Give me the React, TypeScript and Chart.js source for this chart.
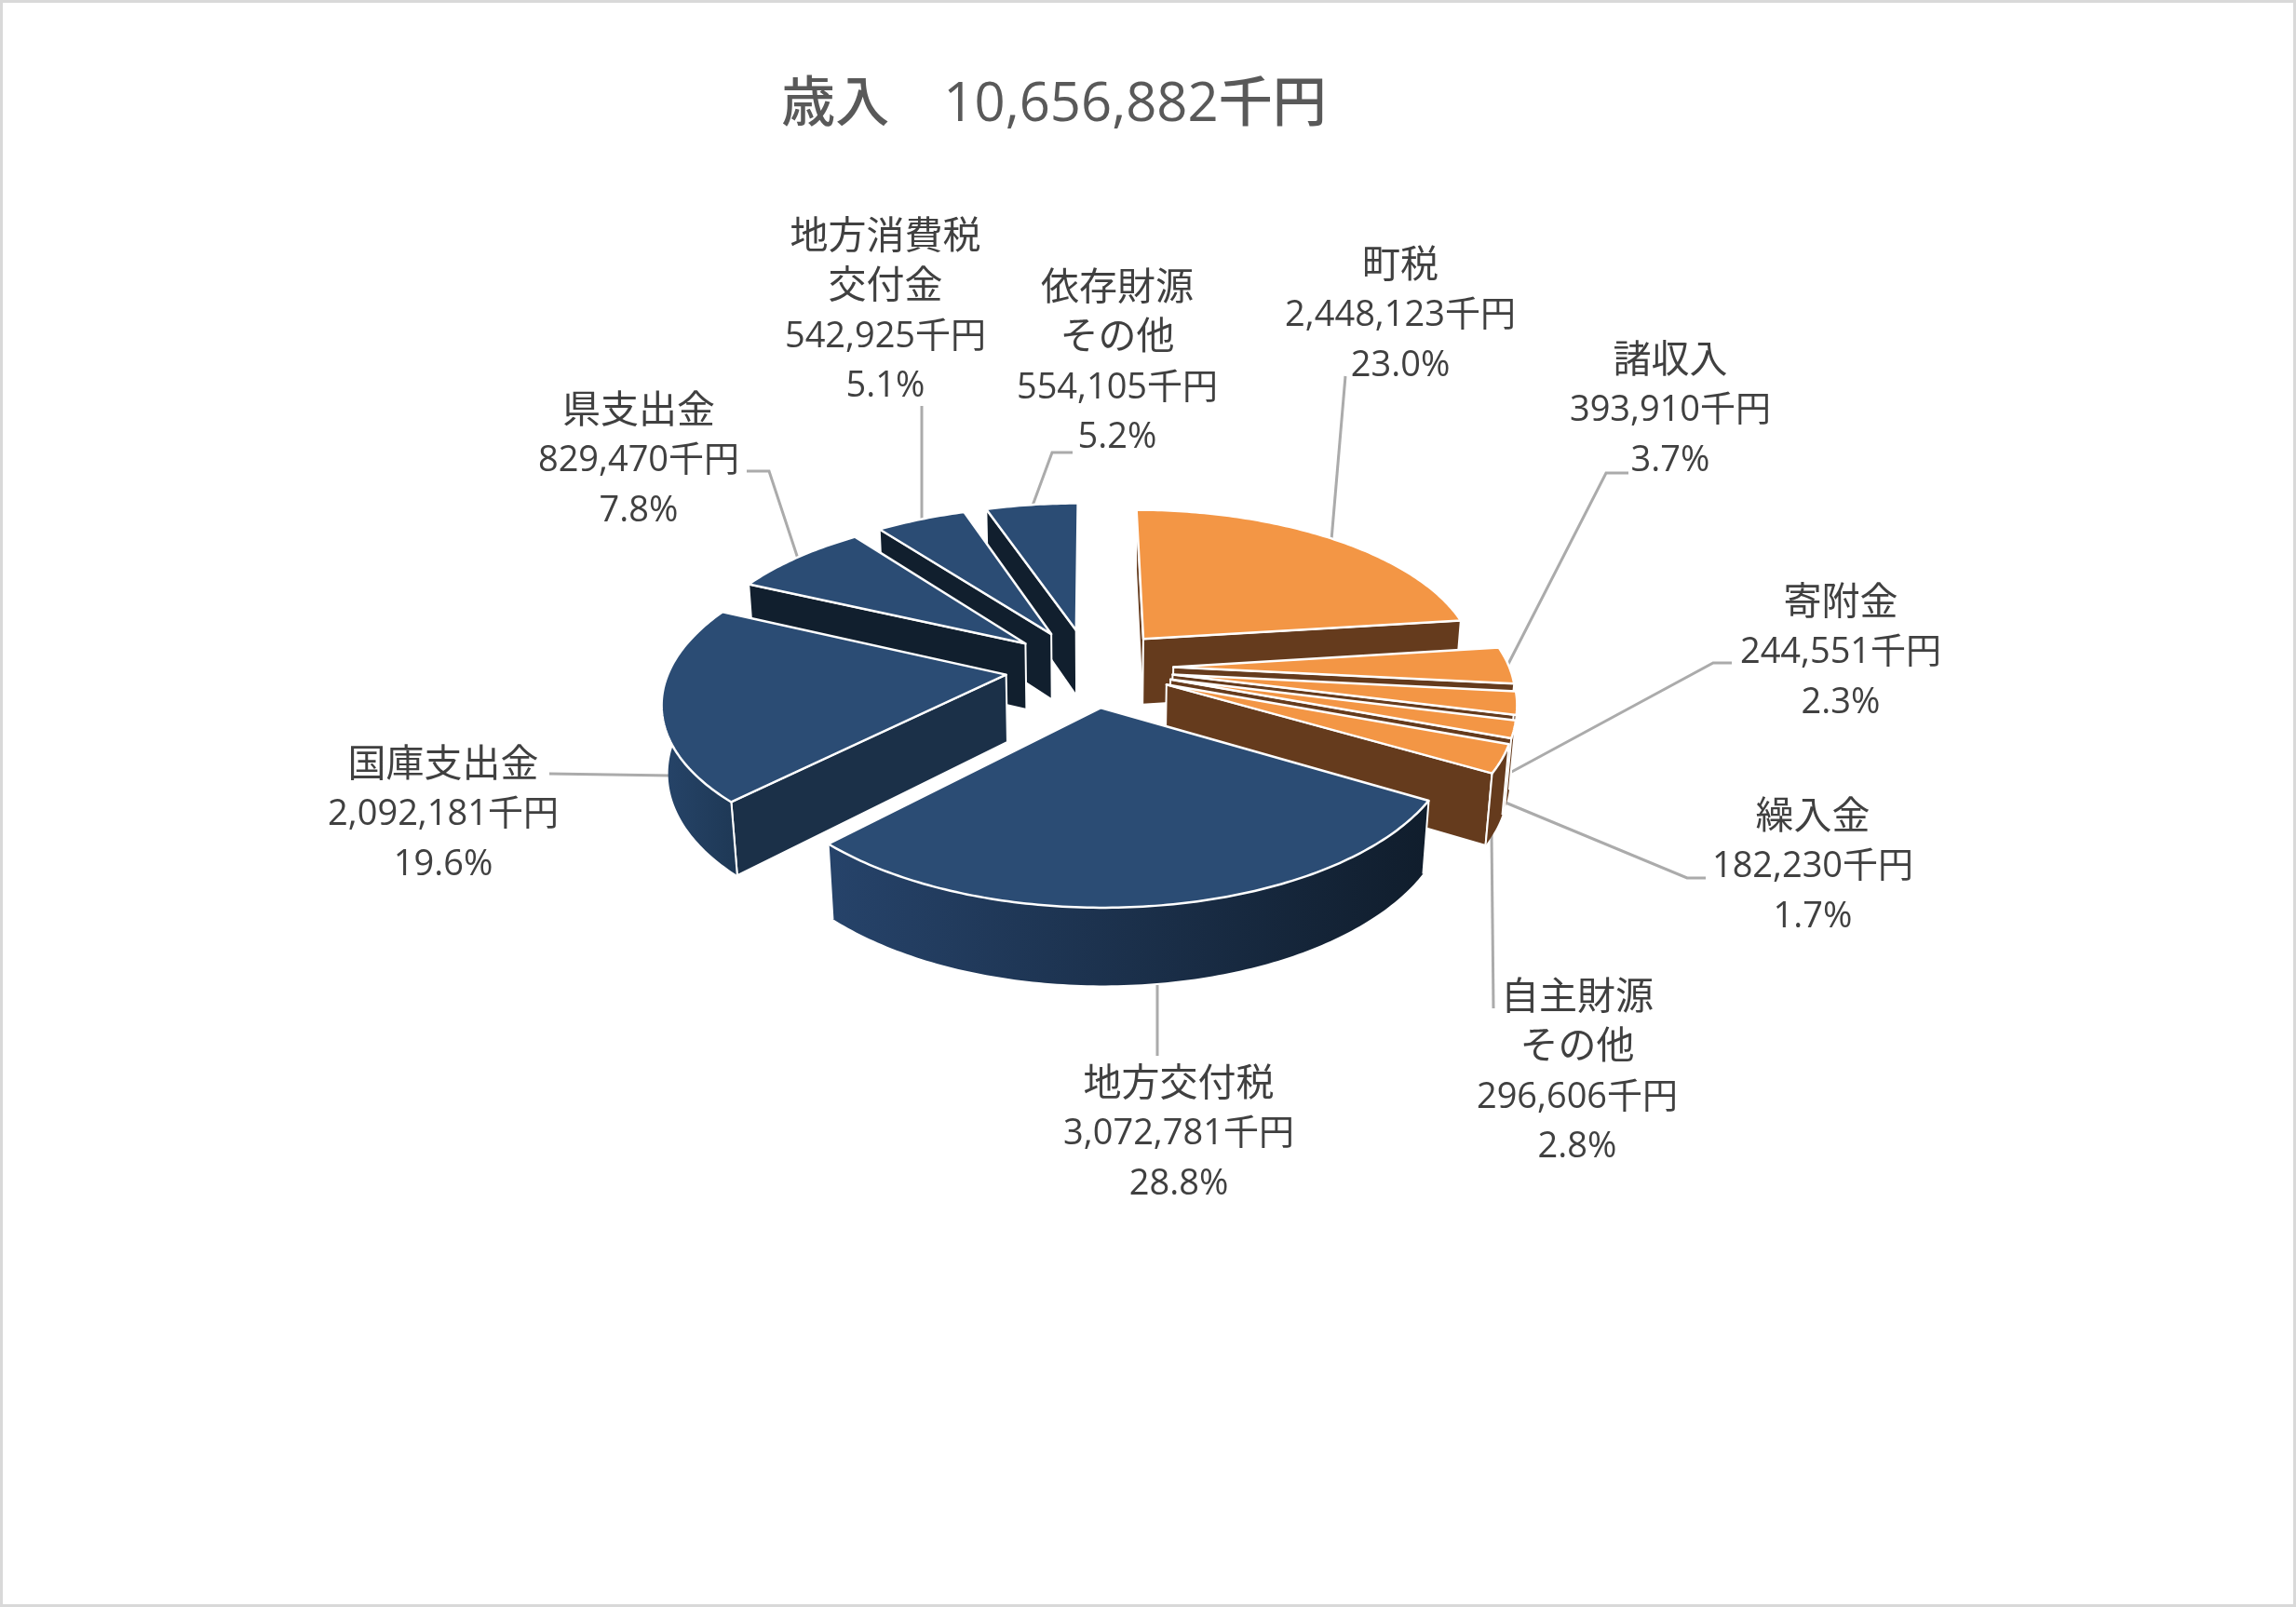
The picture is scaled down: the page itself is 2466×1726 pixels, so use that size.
// File: App.tsx
import React, { useEffect, useRef } from "react";
import { Chart, registerables } from "chart.js";

Chart.register(...registerables);

const titleText = "歳入　10,656,882千円";

const categories = [
  "町税",
  "諸収入",
  "寄附金",
  "繰入金",
  "自主財源\nその他",
  "地方交付税",
  "国庫支出金",
  "県支出金",
  "地方消費税\n交付金",
  "依存財源\nその他",
];
const amounts = [2448123, 393910, 244551, 182230, 296606, 3072781, 2092181, 829470, 542925, 554105];

const ORANGE = "#F39645";
const BROWN = "#653B1D";
const BLUE = "#2B4C74";
const topColors = [ORANGE, ORANGE, ORANGE, ORANGE, ORANGE, BLUE, BLUE, BLUE, BLUE, BLUE];
const cutColors = [BROWN, BROWN, BROWN, BROWN, BROWN, "#111F2E", "#1B3048", "#111F2E", "#111F2E", "#111F2E"];
const wallFrom = [BROWN, BROWN, BROWN, BROWN, BROWN, "#26436A", "#264469", "#111F2E", "#111F2E", "#111F2E"];
const wallTo = [BROWN, BROWN, BROWN, BROWN, BROWN, "#101D2C", "#1E3855", "#111F2E", "#111F2E", "#111F2E"];

// where each data label sits: centre x, centre y of its first line
const labelSpots = [
  [1504, 286],
  [1794, 388],
  [1977, 648],
  [1947, 878],
  [1694, 1072],
  [1266, 1165],
  [476, 822],
  [686, 442],
  [951, 255],
  [1200, 310],
];
const leaderLines = [
  [[1430, 580], [1445, 404]],
  [[1619, 715], [1725, 508], [1749, 508]],
  [[1618, 832], [1840, 712], [1860, 712]],
  [[1617, 862], [1812, 943], [1832, 943]],
  [[1602, 895], [1604, 1083]],
  [[1243, 1058], [1243, 1134]],
  [[720, 833], [590, 831]],
  [[857, 600], [826, 506], [802, 506]],
  [[990, 559], [990, 436]],
  [[1109, 543], [1130, 486], [1152, 486]],
];

// 3d view of the pie, in canvas pixels for a unit radius
const view = { cx: 1170, cy: 717, a: 361, b: 168, h: 73, k: 0.15, m: 0.015 };
const EXPLODE = 0.25;
const TEXT_FONT = '"Open Sans", "Noto Sans CJK JP", sans-serif';

const project = (u: number, v: number, z: number) => {
  const w = 1 - view.k * v + view.m * z;
  return [view.cx + (view.a * u) / w, view.cy + (view.b * v + view.h * z) / w];
};

const tracePoly = (ctx: CanvasRenderingContext2D, pts: number[][]) => {
  ctx.beginPath();
  pts.forEach((p, i) => (i === 0 ? ctx.moveTo(p[0], p[1]) : ctx.lineTo(p[0], p[1])));
  ctx.closePath();
};

const paintFace = (ctx: CanvasRenderingContext2D, pts: number[][], fill: string | CanvasGradient, edge: number) => {
  tracePoly(ctx, pts);
  ctx.fillStyle = fill;
  ctx.fill();
  if (edge > 0) {
    ctx.strokeStyle = "#FFFFFF";
    ctx.lineWidth = edge;
    ctx.lineJoin = "round";
    ctx.stroke();
  }
};

// draws the slices chart.js laid out, as an exploded 3d pie
const pie3dPlugin = {
  id: "pie3d",
  beforeDraw(chart: any) {
    const { ctx, width, height } = chart;
    ctx.save();
    ctx.fillStyle = "#FFFFFF";
    ctx.fillRect(0, 0, width, height);
    ctx.strokeStyle = "#D9D9D9";
    ctx.lineWidth = 3;
    ctx.strokeRect(1.5, 1.5, width - 3, height - 3);

    ctx.strokeStyle = "#ABABAB";
    ctx.lineWidth = 3;
    leaderLines.forEach((line) => {
      ctx.beginPath();
      line.forEach((p, i) => (i === 0 ? ctx.moveTo(p[0], p[1]) : ctx.lineTo(p[0], p[1])));
      ctx.stroke();
    });
    ctx.restore();
  },
  beforeDatasetDraw(chart: any) {
    const ctx: CanvasRenderingContext2D = chart.ctx;
    const arcs = chart.getDatasetMeta(0).data.map((el: any, index: number) => {
      const props = el.getProps(["startAngle", "endAngle"], true);
      const mid = (props.startAngle + props.endAngle) / 2;
      return { index, start: props.startAngle, end: props.endAngle, mid };
    });
    arcs.sort((p: any, q: any) => Math.sin(p.mid) - Math.sin(q.mid));

    ctx.save();
    arcs.forEach(({ index, start, end, mid }: any) => {
      const ou = Math.cos(mid) * EXPLODE;
      const ov = Math.sin(mid) * EXPLODE;
      const rim = (ang: number, z: number) => project(ou + Math.cos(ang), ov + Math.sin(ang), z);
      const seen = (nu: number, nv: number) => -ou * nu + (1 / view.k - ov) * nv > 0;

      // cut faces
      if (seen(Math.sin(start), -Math.cos(start))) {
        paintFace(ctx, [project(ou, ov, 0), rim(start, 0), rim(start, 1), project(ou, ov, 1)], cutColors[index], 2);
      }
      if (seen(-Math.sin(end), Math.cos(end))) {
        paintFace(ctx, [project(ou, ov, 0), rim(end, 0), rim(end, 1), project(ou, ov, 1)], cutColors[index], 2);
      }

      // outer wall, a little past the left side so the silhouette closes
      const from = Math.max(start, 0);
      const to = Math.min(end, Math.PI + 0.3);
      if (to > from) {
        const steps = Math.max(2, Math.ceil((to - from) / 0.015));
        const upper: number[][] = [];
        const lower: number[][] = [];
        for (let i = 0; i <= steps; i++) {
          const ang = from + ((to - from) * i) / steps;
          upper.push(rim(ang, 0));
          lower.push(rim(ang, 1));
        }
        const xs = upper.concat(lower).map((p) => p[0]);
        const grad = ctx.createLinearGradient(Math.min(...xs), 0, Math.max(...xs), 0);
        grad.addColorStop(0, wallFrom[index]);
        grad.addColorStop(1, wallTo[index]);
        paintFace(ctx, upper.concat(lower.reverse()), grad, 0);

        // white corner where the wall meets a cut face
        ctx.strokeStyle = "#FFFFFF";
        ctx.lineWidth = 2;
        ctx.beginPath();
        if (from === start) {
          ctx.moveTo(rim(start, 0)[0], rim(start, 0)[1]);
          ctx.lineTo(rim(start, 1)[0], rim(start, 1)[1]);
        }
        if (to === end) {
          ctx.moveTo(rim(end, 0)[0], rim(end, 0)[1]);
          ctx.lineTo(rim(end, 1)[0], rim(end, 1)[1]);
        }
        ctx.stroke();
      }

      // top face
      const steps = Math.max(2, Math.ceil((end - start) / 0.015));
      const top = [project(ou, ov, 0)];
      for (let i = 0; i <= steps; i++) top.push(rim(start + ((end - start) * i) / steps, 0));
      paintFace(ctx, top, topColors[index], 2.5);
    });
    ctx.restore();
    return false; // the flat pie itself is not drawn
  },
  afterDraw(chart: any) {
    const { ctx } = chart;
    const total = amounts.reduce((sum, n) => sum + n, 0);
    ctx.save();
    ctx.textAlign = "center";
    ctx.textBaseline = "middle";

    ctx.fillStyle = "#595959";
    ctx.font = `500 58px ${TEXT_FONT}`;
    ctx.fillText(titleText, 1132, 113);

    ctx.fillStyle = "#404040";
    categories.forEach((name, i) => {
      const lines = name.split("\n");
      const [x, y] = labelSpots[i];
      ctx.font = `41px ${TEXT_FONT}`;
      lines.forEach((line, n) => ctx.fillText(line, x, y + n * 53.5));
      ctx.font = `38px ${TEXT_FONT}`;
      ctx.fillText(`${amounts[i].toLocaleString("en-US")}千円`, x, y + lines.length * 53.5);
      ctx.fillText(`${((amounts[i] / total) * 100).toFixed(1)}%`, x, y + (lines.length + 1) * 53.5);
    });
    ctx.restore();
  },
};

const App: React.FC = () => {
  const chartRef = useRef<HTMLCanvasElement>(null);

  useEffect(() => {
    const canvas = chartRef.current;
    if (!canvas) return;

    const chart = new Chart(canvas, {
      type: "pie",
      data: {
        labels: categories,
        datasets: [{ data: amounts, backgroundColor: topColors, borderWidth: 0 }],
      },
      options: {
        responsive: false,
        animation: false,
        devicePixelRatio: 1,
        plugins: {
          legend: { display: false },
          tooltip: { enabled: false },
        },
      },
      plugins: [pie3dPlugin],
    } as any);

    return () => {
      chart.destroy();
    };
  }, []);

  return (
    <div style={{ width: 2466, height: 1726 }}>
      <style>{"body { margin: 0; background: #fff; }"}</style>
      <canvas ref={chartRef} width={2466} height={1726} style={{ display: "block" }}></canvas>
    </div>
  );
};

export default App;
